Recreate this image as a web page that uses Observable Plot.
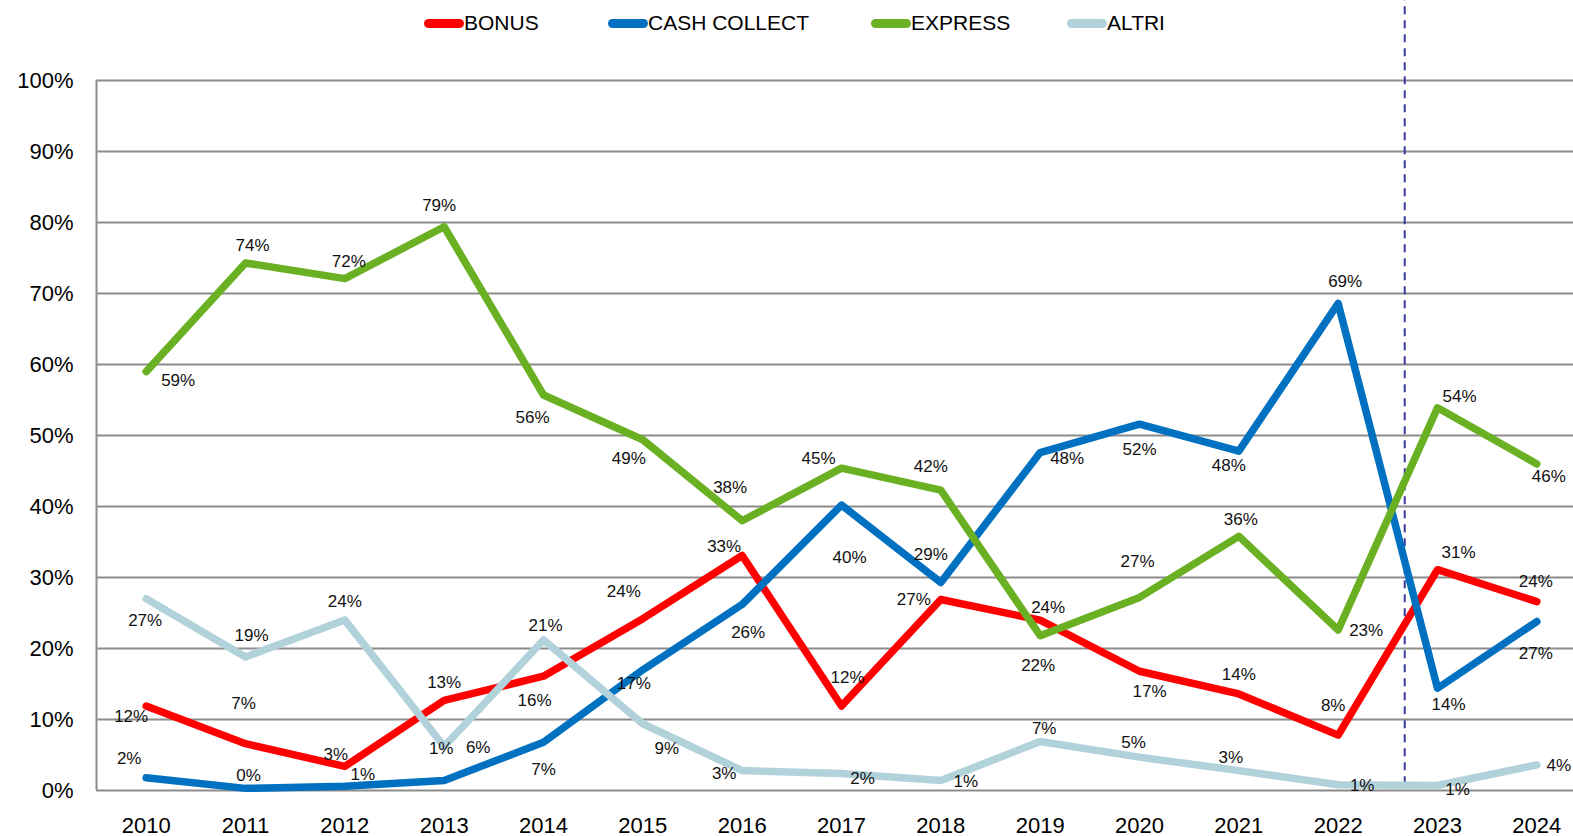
<!DOCTYPE html>
<html>
<head>
<meta charset="utf-8">
<script src="https://cdn.jsdelivr.net/npm/d3@7"></script>
<script src="https://cdn.jsdelivr.net/npm/@observablehq/plot@0.6"></script>
<style>
  html, body { margin: 0; padding: 0; background: #fff; }
  #wrap { position: relative; width: 1573px; height: 836px; font-family: "Liberation Sans", Arial, sans-serif; }
  #legend { position: absolute; top: 10px; left: 0; width: 1573px; height: 26px; font-size: 21px; color: #000; z-index: 2; }
  .item { position: absolute; top: 0; display: flex; align-items: center; height: 26px; }
  .sw { width: 40px; height: 9px; border-radius: 5px; }
</style>
</head>
<body>
<div id="wrap"><div id="legend"></div></div>
<script>
// ---- Data ----
const years = [2010, 2011, 2012, 2013, 2014, 2015, 2016, 2017, 2018, 2019, 2020, 2021, 2022, 2023, 2024];
const seriesNames = ["BONUS", "CASH COLLECT", "EXPRESS", "ALTRI"];
const bonus   = [11.9, 6.6, 3.4, 12.7, 16.1, 24.2, 33.1, 11.9, 26.9, 24.0, 16.8, 13.6, 7.8, 31.1, 26.6];
const cash    = [1.8, 0.3, 0.6, 1.4, 6.8, 17.0, 26.2, 40.2, 29.3, 47.6, 51.6, 47.8, 68.6, 14.4, 23.8];
const express = [59.0, 74.3, 72.1, 79.4, 55.7, 49.4, 38.0, 45.4, 42.3, 21.8, 27.2, 35.8, 22.6, 53.9, 46.0];
const altri   = [27.0, 18.8, 24.0, 6.2, 21.2, 9.4, 2.8, 2.4, 1.4, 6.9, 4.7, 2.8, 0.8, 0.7, 3.6];
const yTicks = [0, 10, 20, 30, 40, 50, 60, 70, 80, 90, 100];
const dividerYear = 2022.67;   // dashed separator between 2022 and 2023
const dividerTop = 111.3;

// ---- Style / label placement (pixel offsets from each point) ----
const colors = ["#FF0000", "#0070C0", "#6AB023", "#B1D1DB"];
const legendLeft = [424, 608, 871, 1067];
const bonusOff   = [[-15,11],[-2,-40],[-9,-12],[0,-18],[-9,24],[-19,-27],[-18,-9],[6,-28],[-27,0],[8,-13],[10,20],[0,-19],[-5,-30],[21,-17],[-1,52]];
const cashOff    = [[-17,-19],[3,-13],[18,-12],[-3,-32],[0,27],[-9,14],[6,28],[8,52],[-10,-28],[27,6],[0,25],[-10,14],[7,-22],[11,16],[-1,-40]];
const expressOff = [[32,9],[7,-17],[4,-17],[-5,-21],[-11,23],[-14,19],[-12,-33],[-23,-10],[-10,-24],[-2,30],[-2,-36],[2,-17],[28,1],[22,-11],[12,13]];
const altriOff   = [[-1,22],[6,-21],[0,-19],[34,1],[2,-14],[24,25],[-18,3],[21,5],[25,1],[4,-13],[-6,-15],[-8,-13],[24,1],[20,4],[22,1]];

const valuesBySeries = [bonus, cash, express, altri];
const offsBySeries = [bonusOff, cashOff, expressOff, altriOff];

const rows = [];
seriesNames.forEach((s, si) => {
  years.forEach((yr, i) => {
    rows.push({series: s, year: yr, value: valuesBySeries[si][i], dx: offsBySeries[si][i][0], dy: offsBySeries[si][i][1]});
  });
});

// ---- Legend ----
const legend = document.getElementById("legend");
seriesNames.forEach((s, i) => {
  const it = document.createElement("div");
  it.className = "item";
  it.style.left = legendLeft[i] + "px";
  it.innerHTML = `<span class="sw" style="background:${colors[i]}"></span><span>${s}</span>`;
  legend.appendChild(it);
});

// ---- Chart ----
const lineMarks = seriesNames.map(s =>
  Plot.line(rows.filter(d => d.series === s), {
    x: "year", y: "value", stroke: "series", strokeWidth: 7.5,
    strokeLinecap: "round", strokeLinejoin: "round"
  })
);
const labelMarks = rows.map(d =>
  Plot.text([d], {
    x: "year", y: "value", text: r => Math.round(r.value) + "%",
    dx: d.dx, dy: d.dy, fontSize: 17, fill: "#111"
  })
);

const chart = Plot.plot({
  width: 1573,
  height: 836,
  marginTop: 80,
  marginBottom: 46,
  marginLeft: 96,
  marginRight: 0,
  style: {fontFamily: "'Liberation Sans', Arial, sans-serif", background: "white", overflow: "visible"},
  x: {type: "linear", domain: [2009.5, 2024.5], range: [96, 1586], label: null},
  y: {domain: [0, 100], range: [790, 80], label: null},
  color: {domain: seriesNames, range: colors},
  marks: [
    Plot.gridY(yTicks, {stroke: "#8c8c8c", strokeOpacity: 1, strokeWidth: 2}),
    Plot.ruleX([2009.5], {y1: 0, y2: 100, stroke: "#8c8c8c", strokeWidth: 2}),
    Plot.axisY(yTicks, {tickSize: 0, tickPadding: 23, tickFormat: d => d + "%", fontSize: 22, label: null}),
    Plot.axisX(years, {tickSize: 0, tickPadding: 27, tickFormat: d => String(d), fontSize: 22, label: null}),
    Plot.ruleX([dividerYear], {y1: 0.8, y2: dividerTop, stroke: "#3a3aa0", strokeWidth: 2, strokeDasharray: "8,6"}),
    ...lineMarks,
    ...labelMarks
  ]
});
chart.style.position = "absolute";
chart.style.left = "0";
chart.style.top = "0";
document.getElementById("wrap").appendChild(chart);
</script>
</body>
</html>
